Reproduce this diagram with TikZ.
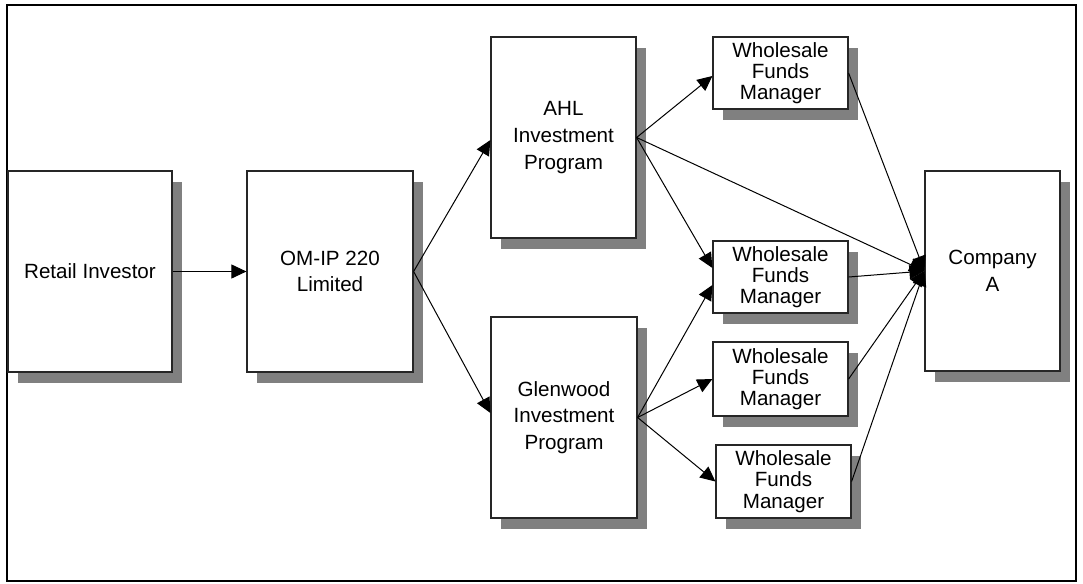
\documentclass[tikz,border=0pt]{standalone}
\usepackage{fontspec}
\setmainfont{Liberation Sans}
\usetikzlibrary{arrows.meta,shadows,calc}
\begin{document}
\begin{tikzpicture}[x=1pt,y=-1pt,
  box/.style={draw=black!85,line width=1.2pt,fill=white,inner sep=0pt,align=center,
    font=\fontsize{20.6}{26.7}\selectfont,
    drop shadow={shadow xshift=10pt,shadow yshift=-11pt,fill=black!50,opacity=1,draw=none}},
  wbox/.style={box,font=\fontsize{20.6}{21.3}\selectfont},
  conn/.style={line width=1pt,-{Triangle[length=15pt,width=14pt]}}]
\useasboundingbox (0,0) rectangle (1083,583);
\draw[line width=2pt] (7,5) rectangle (1076,581);
\node[box,minimum width=164pt,minimum height=201pt] (ri) at (90,271.5) {Retail Investor};
\node[box,minimum width=166pt,minimum height=201pt] (om) at (330,271.5) {OM-IP 220\\Limited};
\node[box,minimum width=145pt,minimum height=201pt] (ahl) at (563.5,137.5) {AHL\\Investment\\Program};
\node[box,minimum width=146pt,minimum height=201pt] (gw) at (564,417.5) {Glenwood\\Investment\\Program};
\node[wbox,minimum width=135pt,minimum height=72pt] (w1) at (780.5,73) {Wholesale\\Funds\\Manager};
\node[wbox,minimum width=135pt,minimum height=72pt] (w2) at (780.5,277) {Wholesale\\Funds\\Manager};
\node[wbox,minimum width=135pt,minimum height=74pt] (w3) at (780.5,379) {Wholesale\\Funds\\Manager};
\node[wbox,minimum width=135pt,minimum height=73pt] (w4) at (783.5,481.5) {Wholesale\\Funds\\Manager};
\node[box,minimum width=135pt,minimum height=200pt] (ca) at (992.5,271) {Company\\A};
\draw[conn] (ri.east) -- (om.west);
\draw[conn] (om.east) -- ($(ahl.west)+(0,2.5)$);
\draw[conn] (om.east) -- ($(gw.west)+(0,-4.5)$);
\draw[conn] (ahl.east) -- ($(w1.west)+(0,3)$);
\draw[conn] (ahl.east) -- ($(w2.west)+(0,-9)$);
\draw[conn] (ahl.east) -- (ca.west);
\draw[conn] (gw.east) -- ($(w2.west)+(0,8)$);
\draw[conn] (gw.east) -- (w3.west);
\draw[conn] (gw.east) -- (w4.west);
\draw[conn] (w1.east) -- (ca.west);
\draw[conn] (w2.east) -- (ca.west);
\draw[conn] (w3.east) -- (ca.west);
\draw[conn] (w4.east) -- (ca.west);
\end{tikzpicture}
\end{document}
